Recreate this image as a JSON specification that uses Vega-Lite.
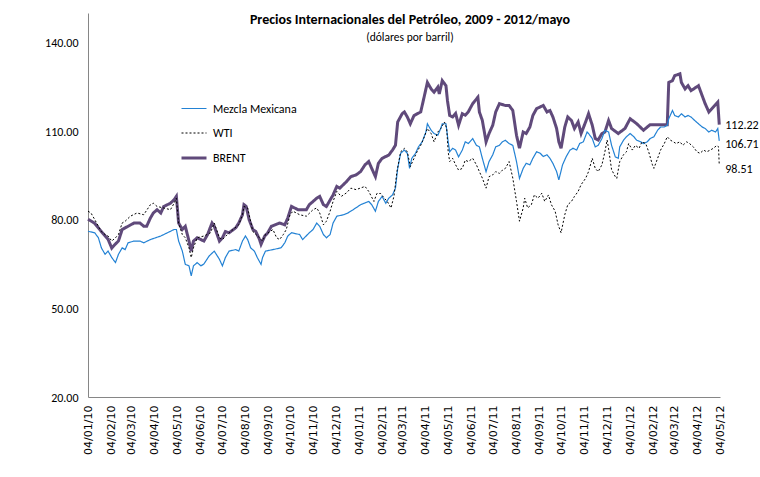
{
"$schema":"https://vega.github.io/schema/vega-lite/v6.json",
"width":632,"height":384,
"autosize":{"type":"none"},
"padding":{"left":88,"top":13,"right":40,"bottom":80},
"background":"white",
"config":{"view":{"stroke":null},"font":"Lato"},
"title":{"text":"Precios Internacionales del Petróleo, 2009 - 2012/mayo","subtitle":"(dólares por barril)","anchor":"middle","offset":-30,"dx":6,"font":"Carlito, Lato","fontSize":14,"fontWeight":"bold","color":"#000","subtitleFont":"Carlito, Lato","subtitleFontSize":11.5,"subtitleFontWeight":"normal","subtitleColor":"#000","subtitlePadding":5},
"data":{"values":[
{"d":"2010-01-04","s":"BRENT","v":80.2},{"d":"2010-01-13","s":"BRENT","v":78.8},{"d":"2010-01-22","s":"BRENT","v":76},{"d":"2010-01-31","s":"BRENT","v":73.4},{"d":"2010-02-05","s":"BRENT","v":70.4},{"d":"2010-02-10","s":"BRENT","v":71.8},{"d":"2010-02-14","s":"BRENT","v":72.8},{"d":"2010-02-19","s":"BRENT","v":76.7},{"d":"2010-02-27","s":"BRENT","v":77.8},{"d":"2010-03-07","s":"BRENT","v":78.9},{"d":"2010-03-15","s":"BRENT","v":78.9},{"d":"2010-03-20","s":"BRENT","v":77.8},{"d":"2010-03-24","s":"BRENT","v":77.8},{"d":"2010-03-29","s":"BRENT","v":80.6},{"d":"2010-04-02","s":"BRENT","v":82.3},{"d":"2010-04-07","s":"BRENT","v":83.4},{"d":"2010-04-12","s":"BRENT","v":82.3},{"d":"2010-04-16","s":"BRENT","v":84.5},{"d":"2010-04-25","s":"BRENT","v":85.6},{"d":"2010-04-30","s":"BRENT","v":86.8},{"d":"2010-05-03","s":"BRENT","v":87.9},{"d":"2010-05-06","s":"BRENT","v":78.9},{"d":"2010-05-11","s":"BRENT","v":76.7},{"d":"2010-05-15","s":"BRENT","v":77.8},{"d":"2010-05-20","s":"BRENT","v":72.8},{"d":"2010-05-23","s":"BRENT","v":69.4},{"d":"2010-05-26","s":"BRENT","v":72.8},{"d":"2010-05-31","s":"BRENT","v":73.9},{"d":"2010-06-09","s":"BRENT","v":72.8},{"d":"2010-06-14","s":"BRENT","v":75},{"d":"2010-06-20","s":"BRENT","v":78.9},{"d":"2010-06-23","s":"BRENT","v":77.8},{"d":"2010-06-30","s":"BRENT","v":72.8},{"d":"2010-07-04","s":"BRENT","v":73.9},{"d":"2010-07-08","s":"BRENT","v":76},{"d":"2010-07-13","s":"BRENT","v":75.6},{"d":"2010-07-22","s":"BRENT","v":77.3},{"d":"2010-07-26","s":"BRENT","v":78.9},{"d":"2010-07-31","s":"BRENT","v":81.7},{"d":"2010-08-02","s":"BRENT","v":85.1},{"d":"2010-08-05","s":"BRENT","v":84.5},{"d":"2010-08-09","s":"BRENT","v":80},{"d":"2010-08-14","s":"BRENT","v":76.7},{"d":"2010-08-18","s":"BRENT","v":76},{"d":"2010-08-23","s":"BRENT","v":73.3},{"d":"2010-08-25","s":"BRENT","v":71.7},{"d":"2010-08-30","s":"BRENT","v":74.5},{"d":"2010-09-03","s":"BRENT","v":75.6},{"d":"2010-09-08","s":"BRENT","v":77.8},{"d":"2010-09-19","s":"BRENT","v":78.9},{"d":"2010-09-26","s":"BRENT","v":78.3},{"d":"2010-09-30","s":"BRENT","v":80.6},{"d":"2010-10-05","s":"BRENT","v":84.5},{"d":"2010-10-14","s":"BRENT","v":83.4},{"d":"2010-10-25","s":"BRENT","v":83.4},{"d":"2010-10-29","s":"BRENT","v":85.1},{"d":"2010-11-08","s":"BRENT","v":87.3},{"d":"2010-11-12","s":"BRENT","v":87.9},{"d":"2010-11-17","s":"BRENT","v":85.1},{"d":"2010-11-21","s":"BRENT","v":84.5},{"d":"2010-11-30","s":"BRENT","v":88.4},{"d":"2010-12-05","s":"BRENT","v":91.3},{"d":"2010-12-09","s":"BRENT","v":90.7},{"d":"2010-12-18","s":"BRENT","v":92.9},{"d":"2010-12-24","s":"BRENT","v":94.6},{"d":"2010-12-31","s":"BRENT","v":95.2},{"d":"2011-01-06","s":"BRENT","v":96.3},{"d":"2011-01-12","s":"BRENT","v":98.6},{"d":"2011-01-17","s":"BRENT","v":99.7},{"d":"2011-01-21","s":"BRENT","v":97.4},{"d":"2011-01-26","s":"BRENT","v":94.6},{"d":"2011-01-30","s":"BRENT","v":99.1},{"d":"2011-02-04","s":"BRENT","v":100.8},{"d":"2011-02-13","s":"BRENT","v":101.9},{"d":"2011-02-18","s":"BRENT","v":103.6},{"d":"2011-02-22","s":"BRENT","v":105.2},{"d":"2011-02-25","s":"BRENT","v":113.1},{"d":"2011-03-03","s":"BRENT","v":115.9},{"d":"2011-03-06","s":"BRENT","v":116.5},{"d":"2011-03-10","s":"BRENT","v":114.8},{"d":"2011-03-14","s":"BRENT","v":112.5},{"d":"2011-03-19","s":"BRENT","v":115.3},{"d":"2011-03-28","s":"BRENT","v":116.5},{"d":"2011-04-01","s":"BRENT","v":120.9},{"d":"2011-04-06","s":"BRENT","v":126.5},{"d":"2011-04-11","s":"BRENT","v":124.3},{"d":"2011-04-15","s":"BRENT","v":123.2},{"d":"2011-04-20","s":"BRENT","v":124.9},{"d":"2011-04-22","s":"BRENT","v":122.6},{"d":"2011-04-26","s":"BRENT","v":127.1},{"d":"2011-05-01","s":"BRENT","v":125.4},{"d":"2011-05-03","s":"BRENT","v":120.4},{"d":"2011-05-06","s":"BRENT","v":115.3},{"d":"2011-05-10","s":"BRENT","v":114.8},{"d":"2011-05-14","s":"BRENT","v":116},{"d":"2011-05-18","s":"BRENT","v":112},{"d":"2011-05-23","s":"BRENT","v":115.9},{"d":"2011-05-27","s":"BRENT","v":115.4},{"d":"2011-05-31","s":"BRENT","v":116.5},{"d":"2011-06-06","s":"BRENT","v":119.3},{"d":"2011-06-13","s":"BRENT","v":121.5},{"d":"2011-06-15","s":"BRENT","v":116.5},{"d":"2011-06-19","s":"BRENT","v":113.6},{"d":"2011-06-24","s":"BRENT","v":106.4},{"d":"2011-06-28","s":"BRENT","v":109.2},{"d":"2011-07-03","s":"BRENT","v":112},{"d":"2011-07-07","s":"BRENT","v":116.5},{"d":"2011-07-12","s":"BRENT","v":119.3},{"d":"2011-07-20","s":"BRENT","v":118.7},{"d":"2011-07-25","s":"BRENT","v":118.7},{"d":"2011-07-30","s":"BRENT","v":117},{"d":"2011-08-04","s":"BRENT","v":108.6},{"d":"2011-08-08","s":"BRENT","v":104.2},{"d":"2011-08-13","s":"BRENT","v":109.7},{"d":"2011-08-17","s":"BRENT","v":109.2},{"d":"2011-08-22","s":"BRENT","v":111.4},{"d":"2011-08-26","s":"BRENT","v":115.3},{"d":"2011-08-31","s":"BRENT","v":117.6},{"d":"2011-09-09","s":"BRENT","v":118.7},{"d":"2011-09-14","s":"BRENT","v":116.5},{"d":"2011-09-18","s":"BRENT","v":117},{"d":"2011-09-22","s":"BRENT","v":114.8},{"d":"2011-09-27","s":"BRENT","v":110.9},{"d":"2011-09-30","s":"BRENT","v":106.4},{"d":"2011-10-03","s":"BRENT","v":104.2},{"d":"2011-10-08","s":"BRENT","v":111.4},{"d":"2011-10-12","s":"BRENT","v":114.8},{"d":"2011-10-17","s":"BRENT","v":113.6},{"d":"2011-10-21","s":"BRENT","v":110.9},{"d":"2011-10-26","s":"BRENT","v":113.1},{"d":"2011-10-30","s":"BRENT","v":109.2},{"d":"2011-11-05","s":"BRENT","v":113.1},{"d":"2011-11-09","s":"BRENT","v":115.9},{"d":"2011-11-14","s":"BRENT","v":112},{"d":"2011-11-18","s":"BRENT","v":107.5},{"d":"2011-11-22","s":"BRENT","v":107},{"d":"2011-11-27","s":"BRENT","v":109.2},{"d":"2011-12-01","s":"BRENT","v":109.7},{"d":"2011-12-06","s":"BRENT","v":113.6},{"d":"2011-12-10","s":"BRENT","v":110.9},{"d":"2011-12-19","s":"BRENT","v":109.2},{"d":"2011-12-28","s":"BRENT","v":110.9},{"d":"2012-01-04","s":"BRENT","v":114.2},{"d":"2012-01-13","s":"BRENT","v":112.5},{"d":"2012-01-22","s":"BRENT","v":110.3},{"d":"2012-01-27","s":"BRENT","v":111.4},{"d":"2012-01-31","s":"BRENT","v":112.2},{"d":"2012-02-23","s":"BRENT","v":112.2},{"d":"2012-02-25","s":"BRENT","v":126.5},{"d":"2012-03-01","s":"BRENT","v":127.1},{"d":"2012-03-04","s":"BRENT","v":128.8},{"d":"2012-03-11","s":"BRENT","v":129.4},{"d":"2012-03-13","s":"BRENT","v":126.5},{"d":"2012-03-18","s":"BRENT","v":124.3},{"d":"2012-03-22","s":"BRENT","v":125.4},{"d":"2012-03-26","s":"BRENT","v":123.7},{"d":"2012-04-05","s":"BRENT","v":125.4},{"d":"2012-04-10","s":"BRENT","v":122},{"d":"2012-04-14","s":"BRENT","v":119.3},{"d":"2012-04-19","s":"BRENT","v":116.5},{"d":"2012-04-23","s":"BRENT","v":117.6},{"d":"2012-05-01","s":"BRENT","v":119.8},{"d":"2012-05-03","s":"BRENT","v":112.22},
{"d":"2010-01-04","s":"Mezcla Mexicana","v":76.1},{"d":"2010-01-13","s":"Mezcla Mexicana","v":75.6},{"d":"2010-01-18","s":"Mezcla Mexicana","v":73.9},{"d":"2010-01-22","s":"Mezcla Mexicana","v":70.5},{"d":"2010-01-27","s":"Mezcla Mexicana","v":68.3},{"d":"2010-01-31","s":"Mezcla Mexicana","v":69.4},{"d":"2010-02-05","s":"Mezcla Mexicana","v":67.2},{"d":"2010-02-10","s":"Mezcla Mexicana","v":65.5},{"d":"2010-02-14","s":"Mezcla Mexicana","v":68.3},{"d":"2010-02-19","s":"Mezcla Mexicana","v":70.5},{"d":"2010-02-23","s":"Mezcla Mexicana","v":69.9},{"d":"2010-02-27","s":"Mezcla Mexicana","v":72.2},{"d":"2010-03-07","s":"Mezcla Mexicana","v":72.8},{"d":"2010-03-15","s":"Mezcla Mexicana","v":72.8},{"d":"2010-03-20","s":"Mezcla Mexicana","v":72.2},{"d":"2010-03-29","s":"Mezcla Mexicana","v":73.3},{"d":"2010-04-12","s":"Mezcla Mexicana","v":74.5},{"d":"2010-04-21","s":"Mezcla Mexicana","v":75.6},{"d":"2010-04-30","s":"Mezcla Mexicana","v":76.7},{"d":"2010-05-03","s":"Mezcla Mexicana","v":76.7},{"d":"2010-05-06","s":"Mezcla Mexicana","v":72.8},{"d":"2010-05-11","s":"Mezcla Mexicana","v":69.4},{"d":"2010-05-15","s":"Mezcla Mexicana","v":64.9},{"d":"2010-05-20","s":"Mezcla Mexicana","v":64.4},{"d":"2010-05-23","s":"Mezcla Mexicana","v":61},{"d":"2010-05-26","s":"Mezcla Mexicana","v":64.4},{"d":"2010-05-31","s":"Mezcla Mexicana","v":65.5},{"d":"2010-06-05","s":"Mezcla Mexicana","v":64.4},{"d":"2010-06-09","s":"Mezcla Mexicana","v":65},{"d":"2010-06-16","s":"Mezcla Mexicana","v":67.7},{"d":"2010-06-23","s":"Mezcla Mexicana","v":69.4},{"d":"2010-06-30","s":"Mezcla Mexicana","v":66.6},{"d":"2010-07-04","s":"Mezcla Mexicana","v":64.4},{"d":"2010-07-08","s":"Mezcla Mexicana","v":67.2},{"d":"2010-07-13","s":"Mezcla Mexicana","v":69.4},{"d":"2010-07-22","s":"Mezcla Mexicana","v":69.9},{"d":"2010-07-26","s":"Mezcla Mexicana","v":69.4},{"d":"2010-07-31","s":"Mezcla Mexicana","v":72.8},{"d":"2010-08-04","s":"Mezcla Mexicana","v":74.5},{"d":"2010-08-07","s":"Mezcla Mexicana","v":73.3},{"d":"2010-08-11","s":"Mezcla Mexicana","v":70.5},{"d":"2010-08-16","s":"Mezcla Mexicana","v":69.4},{"d":"2010-08-20","s":"Mezcla Mexicana","v":67.2},{"d":"2010-08-25","s":"Mezcla Mexicana","v":64.9},{"d":"2010-08-27","s":"Mezcla Mexicana","v":67.2},{"d":"2010-08-31","s":"Mezcla Mexicana","v":69.4},{"d":"2010-09-10","s":"Mezcla Mexicana","v":69.9},{"d":"2010-09-21","s":"Mezcla Mexicana","v":70.5},{"d":"2010-09-26","s":"Mezcla Mexicana","v":72.2},{"d":"2010-09-30","s":"Mezcla Mexicana","v":74.5},{"d":"2010-10-05","s":"Mezcla Mexicana","v":75.6},{"d":"2010-10-16","s":"Mezcla Mexicana","v":75},{"d":"2010-10-20","s":"Mezcla Mexicana","v":73.3},{"d":"2010-10-29","s":"Mezcla Mexicana","v":75.6},{"d":"2010-11-03","s":"Mezcla Mexicana","v":76.7},{"d":"2010-11-08","s":"Mezcla Mexicana","v":78.9},{"d":"2010-11-12","s":"Mezcla Mexicana","v":77.8},{"d":"2010-11-17","s":"Mezcla Mexicana","v":75},{"d":"2010-11-21","s":"Mezcla Mexicana","v":73.9},{"d":"2010-11-26","s":"Mezcla Mexicana","v":75},{"d":"2010-11-30","s":"Mezcla Mexicana","v":78.9},{"d":"2010-12-05","s":"Mezcla Mexicana","v":81.2},{"d":"2010-12-14","s":"Mezcla Mexicana","v":81.7},{"d":"2010-12-20","s":"Mezcla Mexicana","v":82.3},{"d":"2010-12-27","s":"Mezcla Mexicana","v":83.4},{"d":"2011-01-06","s":"Mezcla Mexicana","v":85.1},{"d":"2011-01-17","s":"Mezcla Mexicana","v":86.2},{"d":"2011-01-21","s":"Mezcla Mexicana","v":85.1},{"d":"2011-01-26","s":"Mezcla Mexicana","v":82.9},{"d":"2011-01-30","s":"Mezcla Mexicana","v":86.2},{"d":"2011-02-04","s":"Mezcla Mexicana","v":87.9},{"d":"2011-02-09","s":"Mezcla Mexicana","v":85.6},{"d":"2011-02-13","s":"Mezcla Mexicana","v":87.3},{"d":"2011-02-18","s":"Mezcla Mexicana","v":88.4},{"d":"2011-02-22","s":"Mezcla Mexicana","v":90.7},{"d":"2011-02-25","s":"Mezcla Mexicana","v":97.4},{"d":"2011-03-01","s":"Mezcla Mexicana","v":102.5},{"d":"2011-03-06","s":"Mezcla Mexicana","v":103.6},{"d":"2011-03-10","s":"Mezcla Mexicana","v":102.5},{"d":"2011-03-13","s":"Mezcla Mexicana","v":97.4},{"d":"2011-03-16","s":"Mezcla Mexicana","v":100.8},{"d":"2011-03-21","s":"Mezcla Mexicana","v":102.5},{"d":"2011-03-25","s":"Mezcla Mexicana","v":104.7},{"d":"2011-03-30","s":"Mezcla Mexicana","v":106.4},{"d":"2011-04-04","s":"Mezcla Mexicana","v":109.7},{"d":"2011-04-06","s":"Mezcla Mexicana","v":112.5},{"d":"2011-04-11","s":"Mezcla Mexicana","v":110.3},{"d":"2011-04-15","s":"Mezcla Mexicana","v":109.2},{"d":"2011-04-20","s":"Mezcla Mexicana","v":108.6},{"d":"2011-04-24","s":"Mezcla Mexicana","v":110.9},{"d":"2011-04-26","s":"Mezcla Mexicana","v":112.5},{"d":"2011-05-01","s":"Mezcla Mexicana","v":112.5},{"d":"2011-05-04","s":"Mezcla Mexicana","v":106.4},{"d":"2011-05-06","s":"Mezcla Mexicana","v":103},{"d":"2011-05-10","s":"Mezcla Mexicana","v":104.2},{"d":"2011-05-14","s":"Mezcla Mexicana","v":103.6},{"d":"2011-05-18","s":"Mezcla Mexicana","v":101.3},{"d":"2011-05-23","s":"Mezcla Mexicana","v":103.6},{"d":"2011-05-27","s":"Mezcla Mexicana","v":106.4},{"d":"2011-05-31","s":"Mezcla Mexicana","v":105.8},{"d":"2011-06-06","s":"Mezcla Mexicana","v":107.5},{"d":"2011-06-11","s":"Mezcla Mexicana","v":105.2},{"d":"2011-06-15","s":"Mezcla Mexicana","v":104.7},{"d":"2011-06-19","s":"Mezcla Mexicana","v":100.8},{"d":"2011-06-24","s":"Mezcla Mexicana","v":96.3},{"d":"2011-06-28","s":"Mezcla Mexicana","v":99.7},{"d":"2011-07-03","s":"Mezcla Mexicana","v":102},{"d":"2011-07-07","s":"Mezcla Mexicana","v":104.7},{"d":"2011-07-12","s":"Mezcla Mexicana","v":105.2},{"d":"2011-07-16","s":"Mezcla Mexicana","v":106.4},{"d":"2011-07-20","s":"Mezcla Mexicana","v":106.9},{"d":"2011-07-25","s":"Mezcla Mexicana","v":105.8},{"d":"2011-07-30","s":"Mezcla Mexicana","v":105.2},{"d":"2011-08-04","s":"Mezcla Mexicana","v":99.7},{"d":"2011-08-08","s":"Mezcla Mexicana","v":94},{"d":"2011-08-13","s":"Mezcla Mexicana","v":97.4},{"d":"2011-08-17","s":"Mezcla Mexicana","v":99.1},{"d":"2011-08-22","s":"Mezcla Mexicana","v":98.6},{"d":"2011-08-26","s":"Mezcla Mexicana","v":100.8},{"d":"2011-08-31","s":"Mezcla Mexicana","v":103},{"d":"2011-09-05","s":"Mezcla Mexicana","v":102.5},{"d":"2011-09-09","s":"Mezcla Mexicana","v":101.4},{"d":"2011-09-14","s":"Mezcla Mexicana","v":102},{"d":"2011-09-18","s":"Mezcla Mexicana","v":100.8},{"d":"2011-09-22","s":"Mezcla Mexicana","v":99.1},{"d":"2011-09-27","s":"Mezcla Mexicana","v":96.3},{"d":"2011-09-30","s":"Mezcla Mexicana","v":93.5},{"d":"2011-10-05","s":"Mezcla Mexicana","v":98.6},{"d":"2011-10-10","s":"Mezcla Mexicana","v":101.4},{"d":"2011-10-15","s":"Mezcla Mexicana","v":103.6},{"d":"2011-10-19","s":"Mezcla Mexicana","v":104.2},{"d":"2011-10-24","s":"Mezcla Mexicana","v":103.6},{"d":"2011-10-28","s":"Mezcla Mexicana","v":105.8},{"d":"2011-11-02","s":"Mezcla Mexicana","v":106.4},{"d":"2011-11-07","s":"Mezcla Mexicana","v":109.7},{"d":"2011-11-09","s":"Mezcla Mexicana","v":109.2},{"d":"2011-11-14","s":"Mezcla Mexicana","v":107.5},{"d":"2011-11-18","s":"Mezcla Mexicana","v":104.7},{"d":"2011-11-22","s":"Mezcla Mexicana","v":105.2},{"d":"2011-11-27","s":"Mezcla Mexicana","v":107.5},{"d":"2011-12-01","s":"Mezcla Mexicana","v":110.3},{"d":"2011-12-06","s":"Mezcla Mexicana","v":109.7},{"d":"2011-12-10","s":"Mezcla Mexicana","v":105.2},{"d":"2011-12-15","s":"Mezcla Mexicana","v":101.3},{"d":"2011-12-19","s":"Mezcla Mexicana","v":100.8},{"d":"2011-12-21","s":"Mezcla Mexicana","v":104.7},{"d":"2011-12-26","s":"Mezcla Mexicana","v":106.9},{"d":"2011-12-30","s":"Mezcla Mexicana","v":108.1},{"d":"2012-01-04","s":"Mezcla Mexicana","v":109.2},{"d":"2012-01-09","s":"Mezcla Mexicana","v":108.1},{"d":"2012-01-13","s":"Mezcla Mexicana","v":106.9},{"d":"2012-01-18","s":"Mezcla Mexicana","v":106.4},{"d":"2012-01-22","s":"Mezcla Mexicana","v":105.8},{"d":"2012-01-27","s":"Mezcla Mexicana","v":106.4},{"d":"2012-01-31","s":"Mezcla Mexicana","v":107.5},{"d":"2012-02-05","s":"Mezcla Mexicana","v":108.1},{"d":"2012-02-10","s":"Mezcla Mexicana","v":110.3},{"d":"2012-02-14","s":"Mezcla Mexicana","v":111.4},{"d":"2012-02-19","s":"Mezcla Mexicana","v":111.4},{"d":"2012-02-23","s":"Mezcla Mexicana","v":112},{"d":"2012-02-25","s":"Mezcla Mexicana","v":114.2},{"d":"2012-03-01","s":"Mezcla Mexicana","v":117},{"d":"2012-03-04","s":"Mezcla Mexicana","v":115.3},{"d":"2012-03-09","s":"Mezcla Mexicana","v":114.8},{"d":"2012-03-13","s":"Mezcla Mexicana","v":115.9},{"d":"2012-03-18","s":"Mezcla Mexicana","v":114.8},{"d":"2012-03-22","s":"Mezcla Mexicana","v":115.3},{"d":"2012-03-26","s":"Mezcla Mexicana","v":114.8},{"d":"2012-03-31","s":"Mezcla Mexicana","v":113.6},{"d":"2012-04-05","s":"Mezcla Mexicana","v":112.5},{"d":"2012-04-10","s":"Mezcla Mexicana","v":111.4},{"d":"2012-04-14","s":"Mezcla Mexicana","v":110.9},{"d":"2012-04-19","s":"Mezcla Mexicana","v":109.7},{"d":"2012-04-23","s":"Mezcla Mexicana","v":110.3},{"d":"2012-04-28","s":"Mezcla Mexicana","v":109.7},{"d":"2012-05-01","s":"Mezcla Mexicana","v":110.9},{"d":"2012-05-03","s":"Mezcla Mexicana","v":106.71},
{"d":"2010-01-04","s":"WTI","v":82.9},{"d":"2010-01-08","s":"WTI","v":82.3},{"d":"2010-01-13","s":"WTI","v":80.1},{"d":"2010-01-22","s":"WTI","v":76},{"d":"2010-01-27","s":"WTI","v":75},{"d":"2010-01-31","s":"WTI","v":74.5},{"d":"2010-02-05","s":"WTI","v":72.8},{"d":"2010-02-10","s":"WTI","v":73.9},{"d":"2010-02-14","s":"WTI","v":75},{"d":"2010-02-19","s":"WTI","v":78.9},{"d":"2010-02-23","s":"WTI","v":79.5},{"d":"2010-03-02","s":"WTI","v":81.2},{"d":"2010-03-11","s":"WTI","v":82.3},{"d":"2010-03-20","s":"WTI","v":81.7},{"d":"2010-03-29","s":"WTI","v":85.1},{"d":"2010-04-02","s":"WTI","v":85.6},{"d":"2010-04-07","s":"WTI","v":84.5},{"d":"2010-04-16","s":"WTI","v":84},{"d":"2010-04-25","s":"WTI","v":83.4},{"d":"2010-04-30","s":"WTI","v":85.6},{"d":"2010-05-03","s":"WTI","v":87.3},{"d":"2010-05-06","s":"WTI","v":78.9},{"d":"2010-05-11","s":"WTI","v":75},{"d":"2010-05-15","s":"WTI","v":73.9},{"d":"2010-05-20","s":"WTI","v":70.5},{"d":"2010-05-23","s":"WTI","v":67.2},{"d":"2010-05-26","s":"WTI","v":70.5},{"d":"2010-05-31","s":"WTI","v":73.9},{"d":"2010-06-09","s":"WTI","v":74.5},{"d":"2010-06-18","s":"WTI","v":75.6},{"d":"2010-06-23","s":"WTI","v":78.9},{"d":"2010-06-30","s":"WTI","v":73.9},{"d":"2010-07-04","s":"WTI","v":73.3},{"d":"2010-07-13","s":"WTI","v":75.6},{"d":"2010-07-26","s":"WTI","v":78.3},{"d":"2010-07-31","s":"WTI","v":81.7},{"d":"2010-08-02","s":"WTI","v":84.5},{"d":"2010-08-07","s":"WTI","v":84},{"d":"2010-08-14","s":"WTI","v":76},{"d":"2010-08-23","s":"WTI","v":73.9},{"d":"2010-08-27","s":"WTI","v":72.8},{"d":"2010-08-31","s":"WTI","v":75},{"d":"2010-09-06","s":"WTI","v":76},{"d":"2010-09-10","s":"WTI","v":76.7},{"d":"2010-09-15","s":"WTI","v":73.9},{"d":"2010-09-19","s":"WTI","v":73.3},{"d":"2010-09-24","s":"WTI","v":75},{"d":"2010-09-28","s":"WTI","v":76.7},{"d":"2010-10-03","s":"WTI","v":81.7},{"d":"2010-10-07","s":"WTI","v":82.9},{"d":"2010-10-16","s":"WTI","v":81.7},{"d":"2010-10-25","s":"WTI","v":81.2},{"d":"2010-11-03","s":"WTI","v":83.4},{"d":"2010-11-08","s":"WTI","v":84},{"d":"2010-11-12","s":"WTI","v":82.3},{"d":"2010-11-17","s":"WTI","v":78.3},{"d":"2010-11-21","s":"WTI","v":79.5},{"d":"2010-11-26","s":"WTI","v":82.9},{"d":"2010-11-30","s":"WTI","v":86.2},{"d":"2010-12-05","s":"WTI","v":89.6},{"d":"2010-12-11","s":"WTI","v":87.9},{"d":"2010-12-18","s":"WTI","v":89.1},{"d":"2010-12-24","s":"WTI","v":90.7},{"d":"2010-12-31","s":"WTI","v":90.2},{"d":"2011-01-12","s":"WTI","v":91.3},{"d":"2011-01-17","s":"WTI","v":89.6},{"d":"2011-01-24","s":"WTI","v":86.2},{"d":"2011-01-28","s":"WTI","v":88.9},{"d":"2011-02-02","s":"WTI","v":88.9},{"d":"2011-02-07","s":"WTI","v":87.3},{"d":"2011-02-11","s":"WTI","v":86.2},{"d":"2011-02-16","s":"WTI","v":84},{"d":"2011-02-20","s":"WTI","v":88},{"d":"2011-02-24","s":"WTI","v":96.3},{"d":"2011-03-01","s":"WTI","v":103},{"d":"2011-03-06","s":"WTI","v":104.2},{"d":"2011-03-10","s":"WTI","v":103},{"d":"2011-03-14","s":"WTI","v":98},{"d":"2011-03-19","s":"WTI","v":100.8},{"d":"2011-03-23","s":"WTI","v":103},{"d":"2011-03-28","s":"WTI","v":105.2},{"d":"2011-04-01","s":"WTI","v":107.5},{"d":"2011-04-06","s":"WTI","v":110.9},{"d":"2011-04-11","s":"WTI","v":109.2},{"d":"2011-04-15","s":"WTI","v":106.4},{"d":"2011-04-20","s":"WTI","v":109.7},{"d":"2011-04-24","s":"WTI","v":110.9},{"d":"2011-04-29","s":"WTI","v":113.1},{"d":"2011-05-02","s":"WTI","v":110.9},{"d":"2011-05-04","s":"WTI","v":103},{"d":"2011-05-06","s":"WTI","v":99.7},{"d":"2011-05-10","s":"WTI","v":100.8},{"d":"2011-05-14","s":"WTI","v":98.6},{"d":"2011-05-18","s":"WTI","v":96.8},{"d":"2011-05-23","s":"WTI","v":97.4},{"d":"2011-05-27","s":"WTI","v":100.2},{"d":"2011-05-31","s":"WTI","v":99.7},{"d":"2011-06-06","s":"WTI","v":100.8},{"d":"2011-06-11","s":"WTI","v":98.6},{"d":"2011-06-15","s":"WTI","v":96.3},{"d":"2011-06-19","s":"WTI","v":94.1},{"d":"2011-06-24","s":"WTI","v":90.7},{"d":"2011-06-28","s":"WTI","v":94.6},{"d":"2011-07-03","s":"WTI","v":95.2},{"d":"2011-07-07","s":"WTI","v":96.3},{"d":"2011-07-12","s":"WTI","v":95.7},{"d":"2011-07-16","s":"WTI","v":96.8},{"d":"2011-07-20","s":"WTI","v":97.4},{"d":"2011-07-25","s":"WTI","v":99.7},{"d":"2011-07-30","s":"WTI","v":94.1},{"d":"2011-08-04","s":"WTI","v":86.2},{"d":"2011-08-08","s":"WTI","v":79.5},{"d":"2011-08-13","s":"WTI","v":84},{"d":"2011-08-15","s":"WTI","v":87.3},{"d":"2011-08-19","s":"WTI","v":84},{"d":"2011-08-24","s":"WTI","v":85.1},{"d":"2011-08-28","s":"WTI","v":88.4},{"d":"2011-09-02","s":"WTI","v":87.3},{"d":"2011-09-07","s":"WTI","v":89},{"d":"2011-09-11","s":"WTI","v":86.2},{"d":"2011-09-16","s":"WTI","v":88.4},{"d":"2011-09-20","s":"WTI","v":85.1},{"d":"2011-09-25","s":"WTI","v":82.9},{"d":"2011-09-29","s":"WTI","v":78.3},{"d":"2011-10-03","s":"WTI","v":75.6},{"d":"2011-10-08","s":"WTI","v":81.7},{"d":"2011-10-12","s":"WTI","v":85.1},{"d":"2011-10-17","s":"WTI","v":86.2},{"d":"2011-10-21","s":"WTI","v":87.9},{"d":"2011-10-26","s":"WTI","v":89.6},{"d":"2011-10-30","s":"WTI","v":91.9},{"d":"2011-11-05","s":"WTI","v":94},{"d":"2011-11-09","s":"WTI","v":96.3},{"d":"2011-11-14","s":"WTI","v":100.8},{"d":"2011-11-18","s":"WTI","v":97.4},{"d":"2011-11-22","s":"WTI","v":96.3},{"d":"2011-11-27","s":"WTI","v":98.6},{"d":"2011-12-01","s":"WTI","v":103},{"d":"2011-12-04","s":"WTI","v":107},{"d":"2011-12-06","s":"WTI","v":104},{"d":"2011-12-10","s":"WTI","v":97},{"d":"2011-12-15","s":"WTI","v":94.6},{"d":"2011-12-17","s":"WTI","v":94},{"d":"2011-12-21","s":"WTI","v":99.7},{"d":"2011-12-26","s":"WTI","v":102},{"d":"2011-12-30","s":"WTI","v":103},{"d":"2012-01-02","s":"WTI","v":105.8},{"d":"2012-01-07","s":"WTI","v":103.6},{"d":"2012-01-11","s":"WTI","v":105.2},{"d":"2012-01-16","s":"WTI","v":104.2},{"d":"2012-01-20","s":"WTI","v":106.4},{"d":"2012-01-25","s":"WTI","v":105.8},{"d":"2012-01-29","s":"WTI","v":103},{"d":"2012-02-03","s":"WTI","v":98.6},{"d":"2012-02-05","s":"WTI","v":97.4},{"d":"2012-02-10","s":"WTI","v":100.8},{"d":"2012-02-14","s":"WTI","v":103.6},{"d":"2012-02-19","s":"WTI","v":105.8},{"d":"2012-02-23","s":"WTI","v":108.1},{"d":"2012-02-27","s":"WTI","v":107},{"d":"2012-03-02","s":"WTI","v":106.4},{"d":"2012-03-06","s":"WTI","v":105.8},{"d":"2012-03-11","s":"WTI","v":106.4},{"d":"2012-03-15","s":"WTI","v":105.2},{"d":"2012-03-20","s":"WTI","v":106.4},{"d":"2012-03-24","s":"WTI","v":105.8},{"d":"2012-03-29","s":"WTI","v":104.7},{"d":"2012-04-03","s":"WTI","v":103},{"d":"2012-04-07","s":"WTI","v":102.5},{"d":"2012-04-12","s":"WTI","v":103.6},{"d":"2012-04-16","s":"WTI","v":103},{"d":"2012-04-21","s":"WTI","v":103.6},{"d":"2012-04-25","s":"WTI","v":104.2},{"d":"2012-04-30","s":"WTI","v":105.2},{"d":"2012-05-02","s":"WTI","v":104.7},{"d":"2012-05-03","s":"WTI","v":98.51}
]},
"encoding":{
 "x":{"field":"d","type":"temporal","scale":{"type":"utc","domain":[{"year":2010,"month":1,"date":4,"utc":true},{"year":2012,"month":5,"date":4,"utc":true}]},
  "axis":{"title":null,"grid":false,"ticks":false,"labelAngle":270,"labelPadding":8,"labelFont":"DejaVu Sans","labelFontSize":11,"labelColor":"#000","domainColor":"#868686","labelOverlap":false,"labelFlush":false,"labelExpr":"utcFormat(datum.value,'%d/%m/%y')",
   "values":[{"year":2010,"month":1,"date":4,"utc":true},{"year":2010,"month":2,"date":4,"utc":true},{"year":2010,"month":3,"date":4,"utc":true},{"year":2010,"month":4,"date":4,"utc":true},{"year":2010,"month":5,"date":4,"utc":true},{"year":2010,"month":6,"date":4,"utc":true},{"year":2010,"month":7,"date":4,"utc":true},{"year":2010,"month":8,"date":4,"utc":true},{"year":2010,"month":9,"date":4,"utc":true},{"year":2010,"month":10,"date":4,"utc":true},{"year":2010,"month":11,"date":4,"utc":true},{"year":2010,"month":12,"date":4,"utc":true},{"year":2011,"month":1,"date":4,"utc":true},{"year":2011,"month":2,"date":4,"utc":true},{"year":2011,"month":3,"date":4,"utc":true},{"year":2011,"month":4,"date":4,"utc":true},{"year":2011,"month":5,"date":4,"utc":true},{"year":2011,"month":6,"date":4,"utc":true},{"year":2011,"month":7,"date":4,"utc":true},{"year":2011,"month":8,"date":4,"utc":true},{"year":2011,"month":9,"date":4,"utc":true},{"year":2011,"month":10,"date":4,"utc":true},{"year":2011,"month":11,"date":4,"utc":true},{"year":2011,"month":12,"date":4,"utc":true},{"year":2012,"month":1,"date":4,"utc":true},{"year":2012,"month":2,"date":4,"utc":true},{"year":2012,"month":3,"date":4,"utc":true},{"year":2012,"month":4,"date":4,"utc":true},{"year":2012,"month":5,"date":4,"utc":true}]}},
 "y":{"field":"v","type":"quantitative","scale":{"domain":[20,150],"nice":false,"zero":false},
  "axis":{"title":null,"grid":false,"ticks":false,"values":[20,50,80,110,140],"format":".2f","labelPadding":10,"labelFont":"Carlito, Lato","labelFontSize":12,"labelColor":"#000","domainColor":"#868686"}}
},
"layer":[
 {"mark":{"type":"line","strokeCap":"butt"},
  "encoding":{
   "color":{"field":"s","type":"nominal","scale":{"domain":["Mezcla Mexicana","WTI","BRENT"],"range":["#2382D4","#000000","#604A7B"]},
     "legend":{"orient":"none","legendX":92,"legendY":82,"title":null,"symbolType":"stroke","symbolSize":625,"rowPadding":5,"padding":0,"labelOffset":5,"labelFont":"Carlito, Lato","labelFontSize":12,"labelColor":"#000"}},
   "strokeDash":{"field":"s","type":"nominal","scale":{"domain":["Mezcla Mexicana","WTI","BRENT"],"range":[[1,0],[2,2],[1,0]]},"legend":{"orient":"none","legendX":92,"legendY":82,"title":null,"symbolType":"stroke","symbolSize":625,"rowPadding":5,"padding":0,"labelOffset":5,"labelFont":"Carlito, Lato","labelFontSize":12,"labelColor":"#000"}},
   "strokeWidth":{"field":"s","type":"nominal","scale":{"type":"ordinal","domain":["Mezcla Mexicana","WTI","BRENT"],"range":[1.2,1,3]},"legend":{"orient":"none","legendX":92,"legendY":82,"title":null,"symbolType":"stroke","symbolSize":625,"rowPadding":5,"padding":0,"labelOffset":5,"labelFont":"Carlito, Lato","labelFontSize":12,"labelColor":"#000"}}
  }},
 {"transform":[{"filter":"datum.s == 'BRENT'"},{"window":[{"op":"row_number","as":"rn"}],"sort":[{"field":"d","order":"descending"}]},{"filter":"datum.rn == 1"}],
  "mark":{"type":"text","align":"left","dx":6,"dy":0,"font":"Carlito, Lato","fontSize":12,"color":"#000"},
  "encoding":{"text":{"field":"v","format":".2f"}}},
 {"transform":[{"filter":"datum.s == 'Mezcla Mexicana'"},{"window":[{"op":"row_number","as":"rn"}],"sort":[{"field":"d","order":"descending"}]},{"filter":"datum.rn == 1"}],
  "mark":{"type":"text","align":"left","dx":6,"dy":3,"font":"Carlito, Lato","fontSize":12,"color":"#000"},
  "encoding":{"text":{"field":"v","format":".2f"}}},
 {"transform":[{"filter":"datum.s == 'WTI'"},{"window":[{"op":"row_number","as":"rn"}],"sort":[{"field":"d","order":"descending"}]},{"filter":"datum.rn == 1"}],
  "mark":{"type":"text","align":"left","dx":6,"dy":4,"font":"Carlito, Lato","fontSize":12,"color":"#000"},
  "encoding":{"text":{"field":"v","format":".2f"}}}
]
}
